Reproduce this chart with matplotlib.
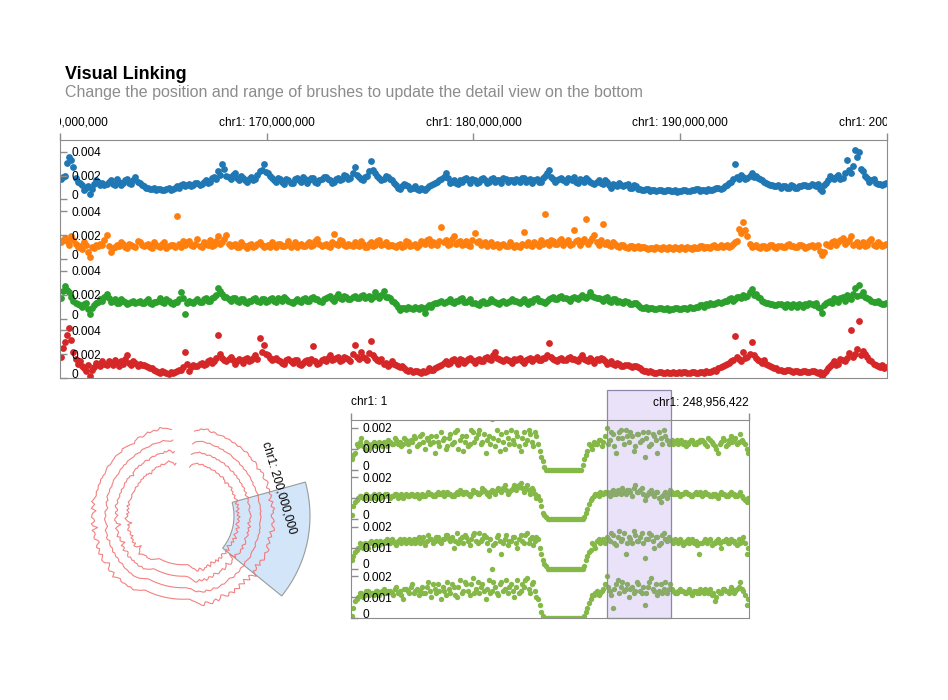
import numpy as np
import matplotlib.pyplot as plt
from matplotlib.patches import Rectangle, Wedge
from matplotlib.ticker import FuncFormatter
from matplotlib.transforms import Bbox, TransformedBbox
from matplotlib.colors import to_rgba

plt.rcParams['font.family'] = ['Liberation Sans', 'DejaVu Sans']

W, H = 948, 700
CHR1_LEN = 248956422
TOP_START, TOP_END = 160_000_000, 200_000_000

# values in units of 1e-4
# detail view on top (chr1:160M-200M); each track = even bins + odd bins
top_blue = [17, 20, 36, 27, 15, 12, 10, 5, 13, 15,
            14, 13, 16, 12, 15, 14, 17, 13, 19, 14,
            11, 10, 9, 8, 9, 8, 10, 9, 11, 12,
            11, 13, 12, 14, 13, 16, 15, 19, 24, 30,
            20, 17, 22, 16, 18, 15, 19, 17, 24, 30,
            22, 18, 15, 17, 13, 16, 14, 18, 15, 17,
            16, 18, 14, 17, 19, 16, 15, 18, 17, 20,
            18, 27, 19, 16, 20, 32, 22, 18, 17, 19,
            16, 12, 9, 13, 11, 10, 9, 10, 8, 11,
            13, 15, 17, 22, 14, 16, 13, 15, 18, 14,
            16, 15, 18, 14, 17, 15, 16, 18, 15, 16,
            17, 15, 18, 16, 14, 17, 15, 20, 25, 17,
            16, 18, 15, 17, 19, 14, 16, 18, 15, 13,
            16, 13, 15, 10, 12, 14, 11, 13, 10, 11,
            9, 8, 9, 8, 7, 8, 7, 8, 7, 6,
            7, 8, 7, 8, 9, 8, 7, 8, 9, 10,
            10, 12, 15, 30, 17, 19, 18, 22, 20, 17,
            15, 13, 12, 11, 10, 11, 10, 11, 10, 11,
            12, 11, 12, 13, 7, 14, 20, 17, 21, 18,
            33, 22, 42, 40, 24, 18, 16, 14, 13, 13]
top_blue_odd = [19, 31, 33, 18, 14, 8, 11, 9, 16, 12,
                12, 15, 13, 17, 12, 16, 14, 16, 15, 12,
                10, 9, 10, 9, 8, 9, 8, 10, 10, 13,
                12, 11, 14, 12, 15, 14, 18, 17, 21, 26,
                19, 21, 18, 20, 16, 17, 16, 21, 25, 23,
                20, 16, 18, 15, 17, 14, 17, 16, 19, 14,
                18, 15, 16, 19, 17, 14, 17, 16, 21, 17,
                22, 21, 17, 19, 24, 25, 20, 16, 20, 17,
                14, 10, 11, 12, 9, 11, 8, 9, 10, 12,
                14, 16, 19, 18, 15, 14, 16, 17, 16, 17,
                14, 17, 16, 15, 18, 16, 14, 17, 16, 15,
                16, 18, 15, 17, 16, 15, 18, 22, 19, 15,
                17, 16, 18, 16, 15, 17, 15, 16, 14, 15,
                14, 16, 12, 13, 11, 12, 12, 10, 12, 9,
                8, 9, 7, 8, 8, 7, 8, 7, 8, 7,
                8, 7, 8, 9, 7, 8, 9, 8, 10, 9,
                11, 14, 17, 19, 21, 17, 20, 19, 18, 16,
                14, 12, 11, 12, 11, 10, 12, 10, 11, 12,
                11, 13, 11, 9, 12, 16, 18, 19, 17, 22,
                25, 28, 36, 26, 20, 15, 17, 13, 12, 14]
top_orange = [14, 18, 12, 16, 10, 8, 12, 2, 9, 11,
              12, 20, 6, 10, 11, 13, 9, 12, 10, 14,
              11, 13, 9, 12, 10, 14, 11, 12, 36, 10,
              12, 15, 11, 17, 10, 13, 16, 12, 19, 14,
              20, 11, 13, 10, 12, 9, 13, 11, 14, 10,
              12, 14, 10, 13, 11, 15, 12, 10, 13, 11,
              14, 12, 17, 11, 13, 10, 21, 12, 15, 11,
              12, 14, 11, 13, 10, 14, 12, 16, 13, 11,
              12, 10, 13, 11, 14, 12, 10, 15, 13, 17,
              14, 12, 27, 16, 13, 19, 14, 12, 15, 11,
              22, 15, 13, 11, 14, 12, 10, 13, 11, 12,
              12, 10, 23, 14, 11, 13, 16, 38, 12, 15,
              13, 17, 14, 12, 24, 16, 14, 34, 15, 20,
              12, 29, 14, 11, 13, 10, 12, 9, 11, 10,
              9, 10, 8, 9, 10, 8, 9, 10, 8, 9,
              10, 8, 9, 10, 9, 11, 10, 9, 12, 10,
              10, 12, 11, 14, 25, 31, 19, 10, 12, 9,
              11, 10, 12, 9, 11, 10, 13, 11, 10, 12,
              9, 11, 10, 12, 3, 13, 11, 15, 14, 18,
              14, 19, 13, 11, 14, 12, 17, 11, 13, 12]
top_orange_odd = [16, 15, 19, 13, 11, 14, 6, 10, 12, 13,
                  16, 11, 9, 12, 14, 10, 13, 11, 15, 12,
                  12, 10, 14, 11, 13, 9, 12, 10, 13, 15,
                  14, 12, 13, 11, 14, 12, 11, 15, 13, 17,
                  13, 12, 10, 14, 11, 12, 10, 13, 12, 11,
                  10, 12, 13, 11, 12, 10, 14, 12, 11, 13,
                  11, 15, 13, 12, 11, 14, 13, 16, 12, 13,
                  11, 12, 15, 10, 13, 11, 15, 12, 14, 12,
                  11, 12, 10, 15, 11, 13, 12, 14, 16, 12,
                  13, 15, 14, 12, 17, 13, 15, 13, 12, 16,
                  14, 12, 14, 13, 11, 13, 12, 11, 14, 10,
                  11, 13, 12, 12, 14, 11, 13, 14, 16, 13,
                  15, 12, 16, 13, 15, 12, 17, 13, 18, 14,
                  16, 13, 12, 14, 11, 12, 10, 11, 9, 11,
                  10, 9, 9, 8, 9, 10, 8, 9, 10, 8,
                  9, 10, 8, 9, 11, 9, 10, 11, 10, 12,
                  11, 10, 13, 15, 22, 24, 13, 11, 10, 11,
                  9, 12, 10, 11, 10, 12, 11, 10, 12, 11,
                  10, 12, 11, 7, 6, 12, 14, 12, 16, 13,
                  16, 12, 14, 13, 11, 15, 12, 14, 11, 13]
top_green = [17, 27, 22, 15, 12, 10, 13, 4, 11, 14,
             15, 21, 14, 16, 13, 15, 12, 14, 13, 15,
             13, 16, 12, 14, 17, 13, 15, 12, 14, 22,
             4, 15, 13, 16, 14, 17, 15, 18, 26, 21,
             18, 15, 17, 14, 16, 13, 15, 17, 14, 16,
             15, 17, 14, 16, 18, 15, 13, 16, 14, 17,
             15, 18, 16, 14, 17, 19, 15, 21, 16, 18,
             16, 19, 17, 20, 18, 16, 22, 17, 23, 18,
             15, 12, 7, 9, 10, 8, 9, 10, 5, 11,
             12, 13, 15, 14, 16, 13, 15, 17, 14, 16,
             13, 11, 15, 13, 16, 14, 12, 15, 14, 16,
             15, 13, 16, 12, 14, 17, 15, 13, 16, 18,
             16, 19, 17, 15, 18, 16, 20, 17, 22, 18,
             17, 15, 18, 14, 16, 15, 13, 14, 12, 13,
             10, 9, 8, 9, 8, 9, 8, 7, 8, 9,
             8, 9, 10, 9, 10, 11, 12, 13, 12, 14,
             14, 15, 17, 16, 18, 20, 19, 25, 21, 17,
             14, 13, 12, 11, 12, 10, 11, 12, 10, 11,
             12, 13, 11, 10, 5, 13, 15, 17, 14, 18,
             20, 16, 26, 28, 22, 17, 15, 14, 13, 12]
top_green_odd = [23, 24, 18, 13, 11, 12, 8, 9, 13, 16,
                 18, 17, 15, 13, 16, 14, 13, 15, 14, 13,
                 15, 13, 14, 15, 14, 16, 13, 14, 16, 17,
                 13, 14, 15, 14, 16, 15, 17, 20, 23, 18,
                 16, 17, 15, 16, 14, 15, 16, 15, 16, 14,
                 16, 15, 17, 15, 16, 14, 15, 15, 16, 15,
                 17, 16, 15, 16, 18, 16, 18, 17, 19, 16,
                 18, 17, 19, 17, 19, 18, 19, 20, 18, 17,
                 14, 10, 9, 8, 9, 10, 8, 9, 10, 10,
                 13, 14, 13, 15, 14, 15, 16, 14, 15, 13,
                 12, 14, 13, 14, 15, 13, 14, 13, 15, 15,
                 14, 15, 14, 15, 16, 15, 14, 15, 17, 16,
                 18, 17, 16, 17, 17, 18, 18, 19, 19, 17,
                 16, 17, 15, 16, 14, 14, 15, 12, 13, 11,
                 9, 10, 9, 8, 9, 8, 9, 8, 9, 8,
                 9, 8, 9, 10, 11, 10, 11, 12, 13, 13,
                 15, 16, 15, 18, 17, 18, 22, 20, 18, 15,
                 13, 12, 11, 12, 11, 12, 10, 11, 12, 10,
                 11, 12, 13, 9, 11, 14, 13, 16, 17, 15,
                 17, 21, 19, 20, 18, 16, 14, 15, 12, 13]
top_red = [18, 30, 42, 22, 12, 10, 6, 2, 9, 12,
           14, 11, 13, 15, 10, 12, 19, 11, 13, 12,
           11, 9, 8, 6, 4, 5, 3, 4, 6, 7,
           22, 6, 11, 10, 13, 12, 15, 14, 36, 17,
           14, 18, 12, 16, 13, 17, 15, 19, 34, 28,
           19, 15, 17, 14, 12, 16, 13, 15, 11, 14,
           13, 27, 12, 15, 14, 19, 16, 18, 15, 17,
           14, 28, 16, 18, 15, 31, 17, 14, 12, 10,
           14, 11, 9, 8, 6, 5, 6, 4, 5, 8,
           7, 9, 11, 14, 13, 16, 12, 15, 14, 17,
           13, 16, 14, 18, 15, 22, 16, 14, 15, 13,
           15, 17, 13, 16, 14, 18, 15, 17, 29, 16,
           14, 17, 15, 18, 16, 14, 19, 15, 17, 13,
           15, 16, 12, 14, 11, 12, 10, 11, 9, 10,
           8, 6, 5, 5, 4, 5, 4, 4, 5, 4,
           4, 5, 4, 5, 4, 5, 6, 5, 7, 8,
           10, 12, 14, 35, 16, 22, 18, 30, 17, 14,
           15, 11, 9, 8, 7, 6, 7, 5, 6, 5,
           6, 5, 6, 4, 2, 6, 10, 14, 12, 15,
           17, 40, 20, 48, 23, 18, 14, 11, 9, 8]
top_red_odd = [25, 36, 32, 16, 14, 8, 11, 7, 13, 10,
               12, 14, 11, 13, 14, 16, 13, 14, 10, 11,
               10, 8, 7, 5, 6, 4, 5, 5, 7, 9,
               12, 9, 10, 12, 11, 14, 13, 17, 20, 15,
               16, 15, 14, 15, 16, 14, 17, 16, 22, 20,
               17, 16, 15, 13, 15, 14, 15, 12, 13, 15,
               16, 14, 13, 16, 17, 15, 17, 14, 18, 16,
               20, 18, 22, 17, 21, 19, 15, 16, 13, 12,
               12, 10, 10, 7, 7, 6, 5, 6, 6, 7,
               8, 10, 13, 12, 15, 14, 16, 13, 16, 15,
               15, 14, 17, 16, 19, 17, 15, 16, 14, 16,
               16, 14, 15, 17, 16, 15, 17, 19, 18, 15,
               16, 15, 17, 16, 15, 17, 16, 14, 15, 16,
               17, 14, 13, 12, 13, 10, 11, 10, 10, 9,
               7, 6, 6, 4, 5, 4, 5, 4, 4, 5,
               5, 4, 5, 4, 5, 4, 5, 6, 6, 9,
               11, 13, 15, 18, 14, 17, 20, 19, 15, 13,
               12, 10, 8, 7, 6, 7, 6, 6, 5, 6,
               5, 6, 5, 5, 4, 8, 12, 11, 16, 14,
               21, 18, 24, 19, 20, 15, 12, 10, 11, 9]

# whole chr1 (bottom view and circular overview), four tracks
chr_a = [5, 8, 11, 15, 10, 12, 11, 13, 12, 12,
         13, 11, 13, 12, 14, 13, 12, 14, 9, 13,
         15, 12, 17, 10, 14, 16, 8, 13, 18, 15,
         11, 17, 13, 19, 14, 9, 16, 12, 18, 15,
         19, 13, 8, 16, 24, 11, 14, 17, 10, 15,
         19, 12, 16, 9, 18, 14, 17, 11, 16, 9,
         4, 0, 0, 0, 0, 0, 0, 0, 0, 0,
         0, 0, 0, 5, 9, 11, 13, 12, 14, 13,
         20, 14, 17, 8, 18, 15, 19, 13, 16, 11,
         17, 14, 6, 18, 12, 16, 8, 15, 19, 14,
         13, 12, 14, 13, 12, 11, 13, 14, 12, 13,
         14, 12, 15, 13, 11, 8, 13, 14, 12, 16,
         14, 12, 17, 13, 10]
chr_a_odd = [7, 12, 13, 11, 13, 10, 12, 11, 13, 11,
             12, 14, 12, 15, 12, 11, 15, 12, 14, 16,
             11, 16, 13, 15, 12, 13, 16, 11, 14, 10,
             15, 12, 18, 10, 16, 13, 11, 19, 13, 17,
             12, 17, 14, 12, 15, 19, 9, 13, 18, 12,
             14, 18, 11, 15, 12, 19, 13, 18, 12, 6,
             1, 0, 0, 0, 0, 0, 0, 0, 0, 0,
             0, 0, 2, 7, 12, 10, 12, 14, 11, 16,
             12, 18, 11, 15, 19, 12, 16, 18, 9, 17,
             13, 18, 15, 11, 17, 14, 18, 12, 16, 12,
             14, 13, 12, 14, 13, 12, 14, 12, 13, 14,
             13, 11, 14, 12, 10, 12, 15, 11, 14, 13,
             15, 13, 14, 12, 8]
chr_b = [2, 8, 10, 11, 10, 11, 10, 12, 11, 10,
         11, 12, 10, 11, 12, 11, 10, 12, 11, 12,
         11, 10, 12, 11, 13, 12, 11, 13, 12, 11,
         13, 12, 11, 13, 14, 12, 13, 11, 14, 13,
         12, 15, 13, 11, 14, 12, 15, 13, 16, 12,
         14, 16, 15, 17, 13, 16, 12, 14, 10, 9,
         3, 1, 0, 0, 0, 0, 0, 0, 0, 0,
         0, 0, 0, 1, 5, 9, 11, 12, 13, 12,
         13, 11, 14, 12, 13, 15, 12, 14, 11, 16,
         13, 15, 9, 12, 14, 11, 13, 8, 12, 10,
         14, 12, 13, 11, 12, 13, 12, 11, 13, 12,
         11, 13, 12, 11, 12, 10, 13, 12, 11, 13,
         12, 11, 13, 10, 8]
chr_b_odd = [6, 9, 11, 10, 12, 10, 11, 10, 12, 11,
             12, 11, 11, 12, 10, 12, 11, 11, 12, 11,
             12, 11, 11, 12, 12, 11, 12, 12, 13, 12,
             12, 11, 12, 12, 13, 13, 12, 12, 13, 12,
             13, 14, 12, 13, 13, 14, 14, 15, 14, 13,
             15, 14, 16, 15, 15, 14, 15, 12, 11, 6,
             2, 0, 0, 0, 0, 0, 0, 0, 0, 0,
             0, 0, 0, 3, 7, 10, 12, 11, 12, 13,
             12, 13, 12, 14, 12, 13, 14, 13, 15, 13,
             14, 12, 11, 13, 12, 13, 10, 11, 13, 12,
             13, 12, 12, 12, 13, 12, 11, 12, 12, 13,
             12, 12, 11, 12, 11, 12, 12, 11, 12, 12,
             11, 12, 11, 9, 10]
chr_c = [4, 8, 10, 11, 12, 10, 13, 11, 12, 13,
         12, 14, 12, 13, 11, 14, 13, 12, 14, 13,
         12, 15, 13, 11, 16, 14, 13, 15, 12, 14,
         16, 13, 10, 17, 14, 12, 15, 11, 16, 13,
         17, 14, 15, 9, 0, 12, 16, 7, 14, 11,
         13, 15, 10, 16, 12, 17, 14, 11, 15, 10,
         4, 1, 0, 0, 0, 0, 0, 0, 0, 0,
         0, 0, 0, 1, 6, 9, 11, 13, 12, 14,
         15, 13, 16, 11, 18, 14, 7, 15, 12, 16,
         13, 17, 5, 14, 16, 10, 15, 12, 17, 13,
         14, 12, 13, 14, 11, 13, 12, 14, 13, 7,
         12, 14, 13, 11, 12, 14, 10, 13, 12, 14,
         13, 11, 12, 15, 7]
chr_c_odd = [6, 9, 12, 10, 11, 12, 12, 13, 11, 12,
             13, 12, 14, 12, 13, 12, 14, 13, 12, 14,
             14, 12, 15, 13, 14, 12, 15, 13, 14, 16,
             14, 15, 13, 12, 15, 16, 13, 14, 17, 12,
             13, 16, 12, 14, 11, 15, 13, 12, 16, 13,
             15, 12, 14, 13, 16, 12, 15, 13, 14, 7,
             2, 0, 0, 0, 0, 0, 0, 0, 0, 0,
             0, 0, 0, 4, 8, 12, 10, 14, 13, 12,
             14, 17, 12, 15, 13, 17, 12, 14, 18, 13,
             15, 12, 14, 17, 13, 15, 11, 16, 14, 15,
             13, 14, 12, 13, 12, 14, 13, 12, 11, 12,
             13, 12, 14, 12, 13, 12, 13, 14, 12, 13,
             12, 14, 13, 12, 10]
chr_d = [1, 8, 10, 12, 11, 13, 12, 11, 13, 12,
         14, 12, 13, 11, 15, 13, 9, 14, 12, 16,
         13, 11, 15, 12, 17, 10, 14, 16, 9, 13,
         17, 12, 15, 10, 18, 13, 16, 11, 19, 14,
         12, 16, 9, 18, 13, 15, 11, 17, 14, 12,
         16, 10, 18, 13, 15, 19, 12, 17, 10, 6,
         1, 0, 0, 0, 0, 0, 0, 0, 0, 0,
         0, 0, 0, 1, 5, 9, 11, 13, 12, 14,
         20, 13, 5, 16, 12, 17, 14, 10, 15, 13,
         16, 12, 6, 15, 19, 13, 11, 16, 14, 12,
         16, 13, 12, 14, 13, 12, 14, 11, 13, 12,
         13, 14, 12, 11, 8, 13, 12, 14, 13, 15,
         12, 14, 17, 13, 6]
chr_d_odd = [5, 9, 12, 10, 13, 11, 12, 13, 11, 13,
             12, 13, 12, 14, 12, 11, 14, 13, 15, 12,
             14, 13, 12, 15, 13, 16, 12, 13, 15, 11,
             14, 16, 11, 15, 12, 17, 13, 16, 12, 17,
             15, 13, 14, 12, 17, 12, 16, 13, 18, 15,
             13, 15, 12, 16, 18, 14, 16, 13, 9, 3,
             0, 0, 0, 0, 0, 0, 0, 0, 0, 0,
             0, 0, 0, 3, 7, 11, 12, 11, 13, 16,
             15, 11, 14, 18, 15, 13, 16, 14, 12, 17,
             13, 15, 12, 17, 14, 16, 13, 12, 17, 14,
             14, 12, 13, 13, 12, 13, 12, 13, 12, 14,
             12, 13, 14, 12, 10, 12, 14, 13, 12, 14,
             13, 15, 14, 11, 9]

top_tracks = [(top_blue, top_blue_odd), (top_orange, top_orange_odd),
              (top_green, top_green_odd), (top_red, top_red_odd)]
top_colors = ['#1f77b4', '#ff7f0e', '#2ca02c', '#d62728']
chr_tracks = [(chr_a, chr_a_odd), (chr_b, chr_b_odd),
              (chr_c, chr_c_odd), (chr_d, chr_d_odd)]

FRAME = '#8c8c8c'
TICK_FS = 8.6
BOT_MAX = 0.00236

fig = plt.figure(figsize=(W / 100, H / 100), dpi=100)


def px_axes(x0, y0, x1, y1):
    # axes placed by pixel box (y measured from the top)
    return fig.add_axes([x0 / W, 1 - y1 / H, (x1 - x0) / W, (y1 - y0) / H])


def merge(even, odd):
    # even and odd bins side by side -> one series in genome order
    return np.column_stack([even, odd]).ravel() * 1e-4


def bin_centers(n, start, end):
    size = (end - start) / n
    return start + (np.arange(n) + 0.5) * size


def style_track(ax, ymax, ticks):
    ax.set_ylim(0, ymax)
    ax.set_yticks(ticks)
    ax.yaxis.set_major_formatter(FuncFormatter(lambda v, p: f'{v:g}'))
    ax.tick_params(axis='y', direction='in', length=5, width=1, color=FRAME,
                   pad=-8.6, labelsize=TICK_FS)
    ax.set_xticks([])
    for s in ax.spines.values():
        s.set_visible(False)
    ax.patch.set_alpha(0)
    labels = ax.get_yticklabels()
    for lbl in labels:
        lbl.set_horizontalalignment('left')
    labels[0].set_verticalalignment('baseline')


def frame_axes(box, xlim, ticks, fmt):
    ax = px_axes(*box)
    ax.set_xlim(*xlim)
    ax.set_ylim(0, 1)
    ax.set_yticks([])
    ax.xaxis.tick_top()
    ax.set_xticks(ticks)
    ax.xaxis.set_major_formatter(FuncFormatter(fmt))
    ax.tick_params(axis='x', direction='out', length=5, width=1, color=FRAME,
                   pad=3.5, labelsize=TICK_FS)
    for s in ax.spines.values():
        s.set_color(FRAME)
    ax.patch.set_alpha(0)
    ax.set_zorder(3)
    return ax


# ---- title
fig.text(65 / W, 1 - 79 / H, 'Visual Linking', fontsize=13, fontweight='bold',
         va='baseline')
fig.text(65 / W, 1 - 97.5 / H,
         'Change the position and range of brushes to update the detail view on the bottom',
         fontsize=11.5, color='#8c8c8c', va='baseline')

# ---- top detail view
top_box = (60, 140, 887, 378)
top = frame_axes(top_box, (TOP_START, TOP_END),
                 np.arange(TOP_START, TOP_END + 1, 10_000_000),
                 lambda v, p: f'chr1: {int(v):,}')
clip = TransformedBbox(Bbox([[0, 1], [1, 1.6]]), top.transAxes)
for lbl in top.get_xticklabels():
    lbl.set_clip_box(clip)
    lbl.set_clip_on(True)

th = (top_box[3] - top_box[1]) / 4
for k, ((even, odd), c) in enumerate(zip(top_tracks, top_colors)):
    y0 = top_box[1] + k * th
    ax = px_axes(top_box[0], y0, top_box[2], y0 + th)
    v = merge(even, odd)
    pos = bin_centers(len(v), TOP_START, TOP_END)
    sc = ax.scatter(pos, v, s=24, color=c, linewidths=0)
    sc.set_clip_path(top.patch)
    ax.set_xlim(TOP_START, TOP_END)
    style_track(ax, 0.005, [0, 0.002, 0.004])

# ---- bottom whole-chromosome view
bot_box = (351, 420, 749, 618)
bot = frame_axes(bot_box, (1, CHR1_LEN), [1, CHR1_LEN],
                 lambda v, p: f'chr1: {int(v):,}')
blabels = bot.get_xticklabels()
blabels[0].set_horizontalalignment('left')
blabels[1].set_horizontalalignment('right')

bh = (bot_box[3] - bot_box[1]) / 4
for k, (even, odd) in enumerate(chr_tracks):
    y0 = bot_box[1] + k * bh
    ax = px_axes(bot_box[0], y0, bot_box[2], y0 + bh)
    v = merge(even, odd)
    pos = bin_centers(len(v), 0, CHR1_LEN)
    sc = ax.scatter(pos, v, s=15, color='#84b847', linewidths=0)
    sc.set_clip_path(bot.patch)
    ax.set_xlim(1, CHR1_LEN)
    style_track(ax, BOT_MAX, [0, 0.001, 0.002])

# brush showing the range of the top view
brush_top = 1 + 30 / (bot_box[3] - bot_box[1])
bot.add_patch(Rectangle((TOP_START, 0), TOP_END - TOP_START, brush_top,
                        transform=bot.get_xaxis_transform(),
                        facecolor=to_rgba('#9c7ce8', 0.22),
                        edgecolor='#8f87aa', lw=0.9, clip_on=False))

# ---- circular overview
circ = px_axes(53, 386, 313, 646)
circ.set_xlim(-130, 130)
circ.set_ylim(-130, 130)
circ.set_aspect('equal')
circ.axis('off')

circ.add_patch(Wedge((0, 0), 127, -39, 15.5, width=76, facecolor='#d3e5f9',
                     edgecolor='#9a9a9a', lw=0.8, zorder=1))

R0, RH = 48.75, 11.5
for k, (even, odd) in enumerate(chr_tracks):
    v = merge(even, odd)
    pos = bin_centers(len(v), 0, CHR1_LEN)
    theta = np.deg2rad(7 + pos / CHR1_LEN * 346)
    r = R0 + (3 - k) * RH + v / BOT_MAX * RH
    circ.plot(r * np.sin(theta), r * np.cos(theta), color='#f26b6b',
              lw=0.8, alpha=0.85, zorder=2)

lab_t = np.deg2rad(73.5)
circ.text(100 * np.sin(lab_t), 100 * np.cos(lab_t), 'chr1: 200,000,000',
          rotation=-73.5, rotation_mode='anchor', ha='center', va='center',
          fontsize=TICK_FS, zorder=3)

fig.savefig('out.png', dpi=100)
